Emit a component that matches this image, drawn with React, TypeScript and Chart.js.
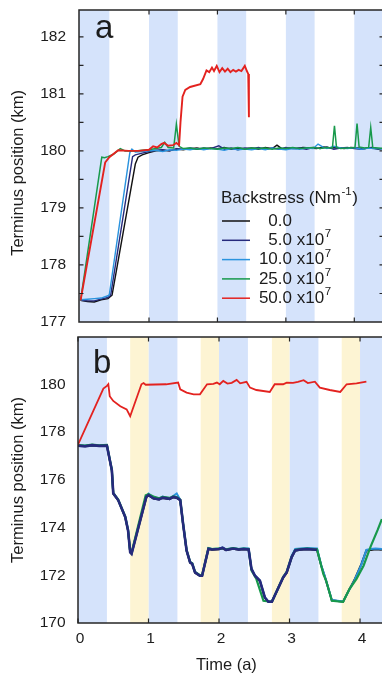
import React, { useEffect, useRef } from 'react';
import { Chart, registerables } from 'chart.js';

Chart.register(...registerables);

const FONT = '"Liberation Sans", Arial, Helvetica, sans-serif';
const TEXT = '#1c1c1c';
const FRAME = '#262626';

// ---------- legend / series metadata ----------
const backstressValues = ['0.0', '5.0', '10.0', '25.0', '50.0'];
const backstressExponent = '7';
const seriesColors = ['#111111', '#262a7c', '#2a93de', '#17994b', '#e3221f'];

// ---------- seasonal bands (time, years) ----------
const blueBandsA = [[-0.05, 0.42], [1, 1.42], [2, 2.42], [3, 3.42], [4, 4.42]];
const blueBandsB = [[0, 0.41], [1, 1.41], [2, 2.41], [3, 3.41], [4, 4.41]];
const yellowBandsB = [[0.74, 1], [1.74, 2], [2.75, 3], [3.74, 4]];

// ---------- tick positions ----------
const aYTickMarks = [177.5, 178, 178.5, 179, 179.5, 180, 180.5, 181, 181.5, 182];
const aXTickMarks = [1, 2, 3, 4];
const bXTickMarks = [0, 1, 2, 3, 4];

// ---------- panel a data ----------
const aBlackT = [0, 0.1, 0.2, 0.3, 0.4, 0.46, 0.8, 0.84, 0.9, 1.0, 1.1, 1.2, 1.3, 1.4, 1.5, 1.6, 1.7, 1.8, 1.9, 2.0, 2.1, 2.2, 2.3, 2.4, 2.5, 2.6, 2.7, 2.8, 2.87, 2.95, 3.05, 3.15, 3.25, 3.35, 3.45, 3.55, 3.65, 3.75, 3.85, 3.95, 4.05, 4.15, 4.25, 4.35, 4.44];
const aBlackV = [177.38, 177.36, 177.35, 177.39, 177.41, 177.47, 179.77, 179.89, 179.93, 179.97, 180.0, 180.01, 180.0, 180.03, 180.02, 180.04, 180.05, 180.03, 180.05, 180.04, 180.06, 180.03, 180.05, 180.04, 180.05, 180.03, 180.06, 180.04, 180.1, 180.03, 180.05, 180.04, 180.06, 180.05, 180.04, 180.07, 180.05, 180.06, 180.04, 180.06, 180.05, 180.04, 180.06, 180.03, 180.05];

const aNavyT = [0, 0.1, 0.2, 0.3, 0.4, 0.44, 0.76, 0.8, 0.9, 1.0, 1.1, 1.2, 1.3, 1.4, 1.5, 1.6, 1.7, 1.8, 1.9, 2.02, 2.1, 2.2, 2.3, 2.4, 2.5, 2.6, 2.7, 2.8, 2.9, 3.0, 3.1, 3.2, 3.3, 3.4, 3.5, 3.6, 3.7, 3.8, 3.9, 4.0, 4.1, 4.2, 4.3, 4.44];
const aNavyV = [177.38, 177.37, 177.37, 177.4, 177.43, 177.47, 179.9, 179.93, 179.96, 179.99, 180.01, 180.02, 180.0, 180.04, 180.03, 180.05, 180.03, 180.05, 180.04, 180.09, 180.03, 180.05, 180.02, 180.05, 180.04, 180.06, 180.03, 180.05, 180.03, 180.06, 180.04, 180.05, 180.03, 180.06, 180.04, 180.07, 180.03, 180.05, 180.06, 180.04, 180.03, 180.05, 180.04, 180.04];

const aBlueT = [0, 0.1, 0.2, 0.3, 0.4, 0.42, 0.72, 0.75, 0.8, 0.9, 1.0, 1.1, 1.2, 1.3, 1.4, 1.5, 1.6, 1.7, 1.8, 1.9, 2.0, 2.1, 2.2, 2.3, 2.4, 2.5, 2.6, 2.7, 2.8, 2.9, 3.0, 3.1, 3.2, 3.3, 3.4, 3.47, 3.55, 3.6, 3.7, 3.8, 3.9, 4.0, 4.1, 4.2, 4.3, 4.44];
const aBlueV = [177.39, 177.4, 177.41, 177.42, 177.46, 177.48, 179.97, 180.03, 179.98, 179.99, 180.0, 180.01, 179.99, 180.02, 180.01, 180.03, 180.02, 180.04, 180.02, 180.04, 180.03, 180.01, 180.04, 180.02, 180.03, 180.02, 180.04, 180.02, 180.05, 180.03, 180.02, 180.04, 180.03, 180.05, 180.04, 180.12, 180.06, 180.04, 180.08, 180.05, 180.04, 180.06, 180.03, 180.05, 180.04, 180.03];

const aGreenT = [0, 0.31, 0.35, 0.4, 0.48, 0.58, 0.65, 0.8, 0.9, 1.0, 1.1, 1.18, 1.23, 1.28, 1.36, 1.4, 1.44, 1.5, 1.6, 1.7, 1.8, 1.9, 2.0, 2.1, 2.2, 2.3, 2.4, 2.5, 2.6, 2.7, 2.8, 2.9, 3.0, 3.1, 3.2, 3.3, 3.4, 3.5, 3.6, 3.68, 3.71, 3.74, 3.8, 3.9, 4.01, 4.04, 4.07, 4.15, 4.21, 4.24, 4.27, 4.35, 4.44];
const aGreenV = [177.38, 179.89, 179.88, 179.9, 179.94, 180.04, 180.0, 180.0, 180.01, 180.02, 180.04, 180.06, 180.15, 180.06, 180.05, 180.47, 180.08, 180.04, 180.05, 180.03, 180.05, 180.04, 180.03, 180.05, 180.04, 180.06, 180.03, 180.05, 180.04, 180.05, 180.03, 180.05, 180.04, 180.06, 180.04, 180.05, 180.06, 180.04, 180.06, 180.05, 180.44, 180.06, 180.04, 180.05, 180.06, 180.48, 180.07, 180.05, 180.06, 180.41, 180.06, 180.05, 180.04];

const aRedT = [0, 0.36, 0.42, 0.55, 0.7, 0.85, 1.0, 1.06, 1.12, 1.18, 1.22, 1.28, 1.35, 1.4, 1.44, 1.46, 1.49, 1.53, 1.6, 1.75, 1.79, 1.84, 1.88, 1.92, 1.95, 1.99, 2.03, 2.07, 2.11, 2.15, 2.19, 2.23, 2.27, 2.31, 2.35, 2.4, 2.43, 2.45, 2.46];
const aRedV = [177.38, 179.8, 179.89, 180.01, 180.0, 180.0, 180.02, 180.08, 180.06, 180.12, 180.14, 180.09, 180.1, 180.14, 180.1, 180.5, 180.95, 181.07, 181.12, 181.17, 181.26, 181.41, 181.38, 181.46, 181.4, 181.49, 181.38, 181.45, 181.39, 181.44, 181.38, 181.42, 181.39, 181.42, 181.4, 181.49, 181.4, 181.35, 180.59];

// ---------- panel b data ----------
const bBlackT = [0, 0.1, 0.2, 0.3, 0.41, 0.45, 0.48, 0.5, 0.57, 0.67, 0.71, 0.74, 0.76, 0.97, 1.0, 1.07, 1.15, 1.2, 1.3, 1.35, 1.4, 1.45, 1.49, 1.54, 1.59, 1.62, 1.66, 1.73, 1.76, 1.85, 1.9, 2.0, 2.05, 2.1, 2.2, 2.28, 2.35, 2.42, 2.46, 2.51, 2.58, 2.65, 2.7, 2.75, 2.91, 2.96, 3.03, 3.08, 3.15, 3.25, 3.39, 3.45, 3.5, 3.6, 3.76, 3.85, 3.92, 4.02, 4.09, 4.15, 4.22, 4.31];
const bBlackV = [177.42, 177.41, 177.44, 177.41, 177.44, 176.82, 176.38, 175.41, 175.14, 174.42, 173.86, 172.95, 172.9, 175.27, 175.34, 175.21, 175.17, 175.24, 175.19, 175.27, 175.24, 175.14, 174.14, 173.02, 172.52, 172.46, 172.1, 171.97, 171.97, 173.1, 173.07, 173.09, 173.13, 173.05, 173.11, 173.07, 173.09, 173.07, 172.25, 171.97, 171.76, 171.06, 170.89, 170.89, 171.9, 172.1, 172.74, 173.03, 173.07, 173.09, 173.06, 172.4, 171.95, 170.95, 170.89, 171.42, 171.8, 172.48, 173.04, 173.06, 173.09, 173.07];

const bNavyT = [0, 0.1, 0.2, 0.3, 0.41, 0.45, 0.48, 0.5, 0.57, 0.67, 0.71, 0.74, 0.76, 0.97, 1.0, 1.07, 1.15, 1.2, 1.3, 1.35, 1.4, 1.45, 1.49, 1.54, 1.59, 1.62, 1.66, 1.73, 1.76, 1.85, 1.9, 2.0, 2.05, 2.1, 2.2, 2.28, 2.35, 2.42, 2.46, 2.51, 2.58, 2.65, 2.7, 2.75, 2.91, 2.96, 3.03, 3.08, 3.15, 3.25, 3.39];
const bNavyV = [177.43, 177.4, 177.45, 177.42, 177.43, 176.84, 176.4, 175.43, 175.15, 174.44, 173.88, 172.97, 172.9, 175.29, 175.36, 175.22, 175.18, 175.25, 175.2, 175.28, 175.25, 175.15, 174.16, 173.04, 172.54, 172.48, 172.12, 171.98, 171.98, 173.11, 173.08, 173.1, 173.15, 173.06, 173.12, 173.08, 173.1, 173.08, 172.27, 171.98, 171.77, 171.07, 170.89, 170.89, 171.91, 172.12, 172.76, 173.04, 173.08, 173.1, 173.07];

const bBlueT = [0, 0.1, 0.2, 0.3, 0.41, 0.45, 0.48, 0.5, 0.57, 0.67, 0.71, 0.74, 0.76, 0.97, 1.0, 1.07, 1.15, 1.2, 1.3, 1.35, 1.4, 1.45, 1.49, 1.54, 1.59, 1.62, 1.66, 1.73, 1.76, 1.85, 1.9, 2.0, 2.05, 2.1, 2.2, 2.28, 2.35, 2.42, 2.46, 2.51, 2.58, 2.65, 2.7, 2.75, 2.91, 2.96, 3.03, 3.08, 3.15, 3.25, 3.39, 3.45, 3.5, 3.6, 3.76, 3.85, 3.92, 4.02, 4.09, 4.15, 4.22, 4.31];
const bBlueV = [177.44, 177.42, 177.46, 177.43, 177.45, 176.85, 176.41, 175.44, 175.16, 174.45, 173.89, 172.98, 172.92, 175.32, 175.42, 175.25, 175.2, 175.3, 175.22, 175.32, 175.43, 175.16, 174.17, 173.05, 172.55, 172.49, 172.13, 171.99, 171.99, 173.14, 173.1, 173.12, 173.16, 173.08, 173.14, 173.1, 173.13, 173.12, 172.28, 171.99, 171.78, 171.08, 170.9, 170.9, 171.93, 172.14, 172.8, 173.1, 173.12, 173.14, 173.12, 172.42, 171.97, 170.96, 170.9, 171.4, 171.78, 172.45, 173.06, 173.1, 173.12, 173.1];

const bGreenT = [0, 0.1, 0.2, 0.3, 0.41, 0.45, 0.48, 0.5, 0.57, 0.67, 0.71, 0.74, 0.76, 0.96, 1.0, 1.07, 1.15, 1.2, 1.3, 1.35, 1.4, 1.45, 1.49, 1.54, 1.59, 1.62, 1.66, 1.73, 1.76, 1.85, 1.9, 2.0, 2.05, 2.1, 2.2, 2.28, 2.35, 2.42, 2.46, 2.53, 2.63, 2.75, 2.91, 2.96, 3.03, 3.08, 3.15, 3.25, 3.39, 3.48, 3.52, 3.6, 3.76, 3.85, 3.95, 4.05, 4.15, 4.25, 4.31];
const bGreenV = [177.45, 177.43, 177.47, 177.44, 177.46, 176.86, 176.42, 175.45, 175.17, 174.46, 173.9, 173.0, 172.95, 175.35, 175.4, 175.3, 175.22, 175.28, 175.24, 175.3, 175.28, 175.17, 174.18, 173.06, 172.56, 172.5, 172.14, 172.0, 172.0, 173.13, 173.1, 173.12, 173.13, 173.09, 173.14, 173.1, 173.12, 173.1, 172.2, 171.84, 170.93, 170.89, 171.93, 172.14, 172.78, 173.06, 173.1, 173.12, 173.09, 172.05, 171.77, 170.93, 170.89, 171.42, 171.85, 172.4, 173.2, 173.9, 174.35];

const bRedT = [0, 0.36, 0.41, 0.43, 0.45, 0.5, 0.6, 0.69, 0.74, 0.9, 0.93, 0.96, 1.1, 1.25, 1.42, 1.45, 1.54, 1.64, 1.73, 1.83, 1.92, 1.97, 2.01, 2.06, 2.12, 2.18, 2.25, 2.3, 2.39, 2.44, 2.53, 2.72, 2.79, 2.91, 2.96, 3.05, 3.12, 3.2, 3.26, 3.36, 3.43, 3.57, 3.72, 3.81, 3.95, 4.09];
const bRedV = [177.47, 179.82, 179.93, 180.0, 179.5, 179.3, 179.08, 178.95, 178.66, 180.0, 180.05, 179.98, 179.99, 180.0, 180.07, 179.79, 179.65, 179.58, 179.58, 180.0, 180.02, 180.07, 180.0, 180.14, 180.03, 180.06, 180.18, 180.04, 180.1, 179.86, 179.76, 179.68, 180.0, 180.0, 180.07, 180.06, 180.1, 180.17, 180.05, 180.11, 179.86, 179.76, 179.68, 180.0, 180.04, 180.11];

function pts(t: number[], v: number[]) {
  const n = Math.min(t.length, v.length);
  const out: { x: number; y: number }[] = [];
  for (let i = 0; i < n; i++) out.push({ x: t[i], y: v[i] });
  return out;
}

type DecorCfg = {
  blue: number[][];
  yellow: number[][];
  xMarks: number[];
  yMarks: number[];
  letter: string;
  letterDx: number;
  letterDy: number;
  legend: boolean;
};

function makeDecor(cfg: DecorCfg) {
  return {
    id: 'decor',
    beforeDatasetsDraw(chart: any) {
      const { ctx, chartArea: ca, scales } = chart;
      const x = scales.x;
      ctx.save();
      ctx.beginPath();
      ctx.rect(ca.left, ca.top, ca.right - ca.left, ca.bottom - ca.top);
      ctx.clip();
      ctx.fillStyle = '#d5e3fb';
      for (const b of cfg.blue) {
        const p0 = x.getPixelForValue(b[0]);
        const p1 = x.getPixelForValue(b[1]);
        ctx.fillRect(p0, ca.top, p1 - p0, ca.bottom - ca.top);
      }
      ctx.fillStyle = '#fdf4d3';
      for (const b of cfg.yellow) {
        const p0 = x.getPixelForValue(b[0]);
        const p1 = x.getPixelForValue(b[1]);
        ctx.fillRect(p0, ca.top, p1 - p0, ca.bottom - ca.top);
      }
      ctx.restore();
    },
    afterDatasetsDraw(chart: any) {
      const { ctx, chartArea: ca, scales } = chart;
      const x = scales.x;
      const y = scales.y;
      ctx.save();
      // frame
      ctx.strokeStyle = FRAME;
      ctx.lineWidth = 1.5;
      ctx.strokeRect(ca.left, ca.top, ca.right - ca.left, ca.bottom - ca.top);
      // inward tick marks
      ctx.lineWidth = 1.2;
      ctx.beginPath();
      for (const v of cfg.xMarks) {
        const px = x.getPixelForValue(v);
        ctx.moveTo(px, ca.bottom);
        ctx.lineTo(px, ca.bottom - 4.5);
        ctx.moveTo(px, ca.top);
        ctx.lineTo(px, ca.top + 4.5);
      }
      for (const v of cfg.yMarks) {
        const py = y.getPixelForValue(v);
        ctx.moveTo(ca.left, py);
        ctx.lineTo(ca.left + 4.5, py);
        ctx.moveTo(ca.right, py);
        ctx.lineTo(ca.right - 4.5, py);
      }
      ctx.stroke();
      // panel letter
      ctx.fillStyle = TEXT;
      ctx.font = `33px ${FONT}`;
      ctx.textAlign = 'left';
      ctx.textBaseline = 'alphabetic';
      ctx.fillText(cfg.letter, ca.left + cfg.letterDx, ca.top + cfg.letterDy);
      // legend
      if (cfg.legend) {
        const lx = ca.left + 143;
        const ty = ca.top + 188;
        ctx.textBaseline = 'middle';
        ctx.font = `17px ${FONT}`;
        const t1 = 'Backstress (Nm';
        ctx.fillText(t1, lx - 1, ty);
        const w = ctx.measureText(t1).width;
        ctx.font = `11.5px ${FONT}`;
        const sup = '-1';
        ctx.fillText(sup, lx - 1 + w + 0.5, ty - 6);
        const ws = ctx.measureText(sup).width;
        ctx.font = `17px ${FONT}`;
        ctx.fillText(')', lx - 1 + w + ws + 1, ty);
        const ds = chart.data.datasets;
        for (let i = 0; i < backstressValues.length; i++) {
          const ry = ca.top + 211 + i * 19.3;
          ctx.strokeStyle = ds[i].borderColor;
          ctx.lineWidth = 1.5;
          ctx.beginPath();
          ctx.moveTo(lx, ry);
          ctx.lineTo(lx + 28, ry);
          ctx.stroke();
          ctx.font = `17px ${FONT}`;
          ctx.textAlign = 'right';
          const numRight = lx + 70;
          ctx.fillText(backstressValues[i], numRight, ry);
          if (i > 0) {
            ctx.textAlign = 'left';
            const xs = ' x10';
            ctx.fillText(xs, numRight, ry);
            const wx = ctx.measureText(xs).width;
            ctx.font = `11.5px ${FONT}`;
            ctx.fillText(backstressExponent, numRight + wx + 0.5, ry - 6);
          }
        }
      }
      ctx.restore();
    },
  };
}

function lineDs(label: string, data: any, color: string, width: number, order: number) {
  return {
    label,
    data,
    borderColor: color,
    backgroundColor: color,
    borderWidth: width,
    pointRadius: 0,
    pointHoverRadius: 0,
    tension: 0,
    fill: false,
    order,
  };
}

function labelOf(i: number) {
  return i === 0 ? backstressValues[i] : `${backstressValues[i]} x10^${backstressExponent}`;
}

function fixY(width: number) {
  return (s: any) => {
    s.width = width;
    s.paddingTop = 0;
    s.paddingBottom = 0;
    s.paddingLeft = 0;
    s.paddingRight = 0;
  };
}

function fixX(height: number) {
  return (s: any) => {
    s.height = height;
    s.paddingTop = 0;
    s.paddingBottom = 0;
    s.paddingLeft = 0;
    s.paddingRight = 0;
  };
}

export default function App() {
  const refA = useRef<HTMLCanvasElement>(null);
  const refB = useRef<HTMLCanvasElement>(null);

  useEffect(() => {
    const tickFont = { size: 15.5, family: FONT };
    const titleFont = { size: 16.5, family: FONT };

    const chartA = new Chart(refA.current as HTMLCanvasElement, {
      type: 'line',
      data: {
        datasets: [
          lineDs(labelOf(0), pts(aBlackT, aBlackV), seriesColors[0], 1.4, 4),
          lineDs(labelOf(1), pts(aNavyT, aNavyV), seriesColors[1], 1.4, 3),
          lineDs(labelOf(2), pts(aBlueT, aBlueV), seriesColors[2], 1.4, 2),
          lineDs(labelOf(3), pts(aGreenT, aGreenV), seriesColors[3], 1.5, 1),
          lineDs(labelOf(4), pts(aRedT, aRedV), seriesColors[4], 1.9, 0),
        ],
      },
      options: {
        responsive: false,
        animation: false,
        devicePixelRatio: 1,
        layout: { padding: { top: 10, right: 8, bottom: 0, left: 0 } },
        plugins: { legend: { display: false }, tooltip: { enabled: false } },
        scales: {
          x: {
            type: 'linear',
            min: -0.023,
            max: 4.434,
            grid: { display: false, drawTicks: false },
            border: { display: false },
            ticks: { display: false },
            afterFit: fixX(8),
          },
          y: {
            type: 'linear',
            min: 177,
            max: 182.47,
            grid: { display: false, drawTicks: false },
            border: { display: false },
            ticks: { stepSize: 1, includeBounds: false, padding: 13, color: TEXT, font: tickFont },
            title: {
              display: true,
              text: 'Terminus position (km)   ',
              color: TEXT,
              font: titleFont,
              padding: { top: 9, bottom: 0 },
            },
            afterFit: fixY(79),
          },
        },
      },
      plugins: [
        makeDecor({
          blue: blueBandsA,
          yellow: [],
          xMarks: aXTickMarks,
          yMarks: aYTickMarks,
          letter: 'a',
          letterDx: 16,
          letterDy: 28,
          legend: true,
        }),
      ],
    } as any);

    const chartB = new Chart(refB.current as HTMLCanvasElement, {
      type: 'line',
      data: {
        datasets: [
          lineDs(labelOf(0), pts(bBlackT, bBlackV), seriesColors[0], 2, 4),
          lineDs(labelOf(1), pts(bNavyT, bNavyV), seriesColors[1], 2.6, 1),
          lineDs(labelOf(2), pts(bBlueT, bBlueV), seriesColors[2], 2, 3),
          lineDs(labelOf(3), pts(bGreenT, bGreenV), seriesColors[3], 2.2, 2),
          lineDs(labelOf(4), pts(bRedT, bRedV), seriesColors[4], 1.8, 0),
        ],
      },
      options: {
        responsive: false,
        animation: false,
        devicePixelRatio: 1,
        layout: { padding: { top: 7, right: 8, bottom: 0, left: 0 } },
        plugins: { legend: { display: false }, tooltip: { enabled: false } },
        scales: {
          x: {
            type: 'linear',
            min: 0,
            max: 4.34,
            grid: { display: false, drawTicks: false },
            border: { display: false },
            ticks: {
              stepSize: 1,
              includeBounds: false,
              padding: 6,
              labelOffset: 2,
              maxRotation: 0,
              color: TEXT,
              font: tickFont,
            },
            title: {
              display: true,
              text: 'Time (a)  ',
              color: TEXT,
              font: titleFont,
              padding: { top: 0, bottom: 0 },
            },
            afterFit: fixX(52),
          },
          y: {
            type: 'linear',
            min: 170,
            max: 181.98,
            grid: { display: false, drawTicks: false },
            border: { display: false },
            ticks: { stepSize: 2, includeBounds: false, padding: 12.5, color: TEXT, font: tickFont },
            title: {
              display: true,
              text: 'Terminus position (km)',
              color: TEXT,
              font: titleFont,
              padding: { top: 9, bottom: 0 },
            },
            afterFit: fixY(78),
          },
        },
      },
      plugins: [
        makeDecor({
          blue: blueBandsB,
          yellow: yellowBandsB,
          xMarks: bXTickMarks,
          yMarks: [],
          letter: 'b',
          letterDx: 15,
          letterDy: 36,
          legend: false,
        }),
      ],
    } as any);

    return () => {
      chartA.destroy();
      chartB.destroy();
    };
  }, []);

  return (
    <div
      style={{
        position: 'fixed',
        left: 0,
        top: 0,
        width: 382,
        height: 675,
        overflow: 'hidden',
        background: '#ffffff',
      }}
    >
      <canvas
        ref={refA}
        width={392}
        height={330}
        style={{ position: 'absolute', left: 0, top: 0, width: 392, height: 330 }}
      />
      <canvas
        ref={refB}
        width={392}
        height={345}
        style={{ position: 'absolute', left: 0, top: 330, width: 392, height: 345 }}
      />
    </div>
  );
}
